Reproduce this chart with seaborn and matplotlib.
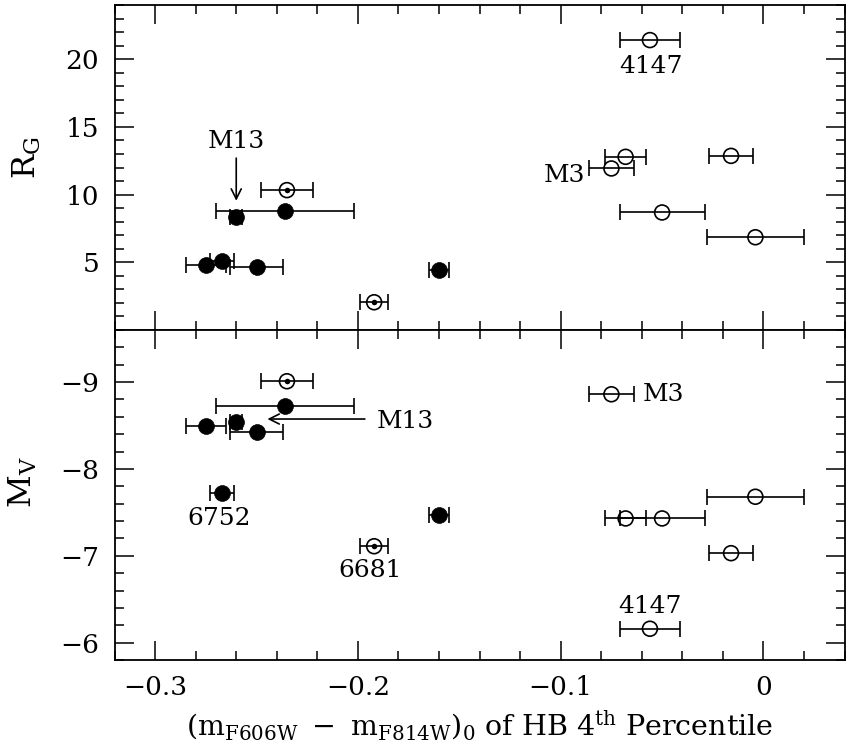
import numpy as np
import pandas as pd
import matplotlib
matplotlib.use('Agg')
import matplotlib.pyplot as plt
import seaborn as sns
from matplotlib.ticker import MultipleLocator, FixedLocator, FuncFormatter

# values
cluster = ['c1', 'c2', 'M13', 'c4', '6752', 'c6', '6681', 'c8',
           '4147', 'c10', 'M3', 'c12', 'c13', 'c14']
hb_color = [-0.235, -0.236, -0.260, -0.275, -0.267, -0.250, -0.192, -0.160,
            -0.056, -0.068, -0.075, -0.016, -0.050, -0.004]
hb_color_err = [0.013, 0.034, 0.003, 0.010, 0.006, 0.013, 0.007, 0.005,
                0.015, 0.010, 0.011, 0.011, 0.021, 0.024]
r_gc = [10.33, 8.80, 8.31, 4.78, 5.10, 4.66, 2.05, 4.41,
        21.41, 12.79, 11.93, 12.86, 8.68, 6.85]
m_v = [-9.01, -8.72, -8.54, -8.49, -7.72, -8.42, -7.11, -7.47,
       -6.16, -7.43, -8.86, -7.03, -7.43, -7.68]
kind = ['dot', 'filled', 'filled', 'filled', 'filled', 'filled', 'dot', 'filled',
        'open', 'open', 'open', 'open', 'open', 'open']

df = pd.DataFrame({'cluster': cluster, 'color': hb_color, 'err': hb_color_err,
                   'RG': r_gc, 'MV': m_v, 'kind': kind})

sns.set_theme(style='ticks')
plt.rcParams['font.family'] = ['DejaVu Serif']
plt.rcParams['mathtext.fontset'] = 'dejavuserif'
plt.rcParams['axes.unicode_minus'] = True
for k in ['text.color', 'axes.labelcolor', 'xtick.color', 'ytick.color',
          'xtick.labelcolor', 'ytick.labelcolor', 'axes.edgecolor']:
    plt.rcParams[k] = 'black'

fig, (ax1, ax2) = plt.subplots(2, 1, figsize=(8.48, 7.5), dpi=100, sharex=True,
                               gridspec_kw={'height_ratios': [325, 330]})
fig.subplots_adjust(left=0.1351, right=0.996, top=0.9933, bottom=0.12, hspace=0)


def draw(ax, col):
    ax.errorbar(df['color'], df[col], xerr=df['err'], fmt='none', ecolor='black',
                elinewidth=1.2, capsize=5.5, capthick=1.2, zorder=2)
    filled = df[df['kind'] == 'filled']
    sns.scatterplot(data=filled, x='color', y=col, ax=ax, color='black', s=130,
                    edgecolor='black', linewidth=0.5, zorder=3, legend=False)
    hollow = df[df['kind'] != 'filled']
    sns.scatterplot(data=hollow, x='color', y=col, ax=ax, facecolor='none', s=115,
                    edgecolor='black', linewidth=1.2, zorder=3, legend=False)
    dots = df[df['kind'] == 'dot']
    sns.scatterplot(data=dots, x='color', y=col, ax=ax, color='black', s=16,
                    edgecolor='black', linewidth=0, zorder=4, legend=False)
    ax.set_xlabel('')


draw(ax1, 'RG')
draw(ax2, 'MV')

ax1.set_xlim(-0.32, 0.04)
ax1.set_ylim(0, 24)
ax2.set_ylim(-5.8, -9.6)

fmt = FuncFormatter(lambda v, p: f'{v:g}'.replace('-', '\u2212'))
ax2.xaxis.set_major_locator(MultipleLocator(0.1))
ax2.xaxis.set_minor_locator(MultipleLocator(0.02))
ax2.xaxis.set_major_formatter(fmt)
ax1.yaxis.set_major_locator(FixedLocator([5, 10, 15, 20]))
ax1.yaxis.set_minor_locator(MultipleLocator(1))
ax2.yaxis.set_major_locator(FixedLocator([-9, -8, -7, -6]))
ax2.yaxis.set_minor_locator(MultipleLocator(0.2))
ax2.yaxis.set_major_formatter(fmt)

for ax in (ax1, ax2):
    ax.tick_params(which='both', direction='in', top=True, right=True,
                   width=1.1, color='black', labelsize=19, pad=11)
    ax.tick_params(which='major', length=13.5)
    ax.tick_params(which='minor', length=6.8)
    for sp in ax.spines.values():
        sp.set_linewidth(1.3)
        sp.set_color('black')
ax1.tick_params(labelbottom=False)

ax1.set_ylabel(r'$\mathrm{R_G}$', fontsize=23)
ax2.set_ylabel(r'$\mathrm{M_V}$', fontsize=23)
ax1.yaxis.set_label_coords(-0.098, 0.53)
ax2.yaxis.set_label_coords(-0.104, 0.54)
ax2.set_xlabel(r'$(\mathrm{m_{F606W}}\ -\ \mathrm{m_{F814W}})_0$ of HB 4$^{\mathrm{th}}$ Percentile',
               fontsize=20.5, labelpad=6)

lab = dict(fontsize=18, ha='center', va='center')
ax1.text(-0.0557, 19.44, '4147', **lab)
ax1.text(-0.0983, 11.41, 'M3', **lab)
ax1.text(-0.260, 13.95, 'M13', **lab)
ax1.annotate('', xy=(-0.260, 9.34), xytext=(-0.260, 12.9),
             arrowprops=dict(arrowstyle='->', lw=1.2, color='black', mutation_scale=18))

ax2.text(-0.1767, -8.552, 'M13', **lab)
ax2.annotate('', xy=(-0.246, -8.575), xytext=(-0.1952, -8.575),
             arrowprops=dict(arrowstyle='->', lw=1.2, color='black', mutation_scale=18))
ax2.text(-0.0493, -8.863, 'M3', **lab)
ax2.text(-0.2685, -7.43, '6752', **lab)
ax2.text(-0.194, -6.835, '6681', **lab)
ax2.text(-0.0558, -6.412, '4147', **lab)

fig.savefig('out.png', dpi=100)
